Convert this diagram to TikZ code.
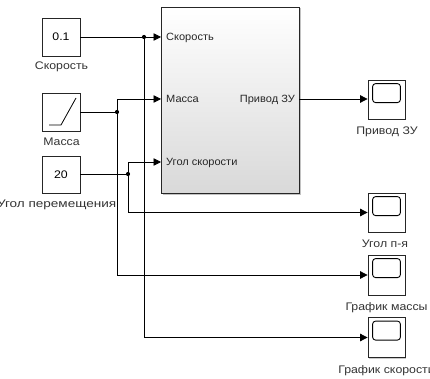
\documentclass[tikz,border=0pt]{standalone}
\usepackage{fontspec}
\setmainfont{Liberation Sans}
\newfontfamily\lblfont[FakeStretch=1.12]{Liberation Sans}
\newfontfamily\portfont[FakeStretch=1.05]{Liberation Sans}
\usetikzlibrary{arrows.meta,shadows}
\begin{document}
\begin{tikzpicture}[x=1pt,y=-1pt,
  blk/.style={draw=black!85,line width=0.8pt,fill=white,inner sep=0pt,
    drop shadow={shadow xshift=1.2pt,shadow yshift=-1.2pt,fill=black!35,opacity=0.6}},
  scopebox/.style={blk,minimum width=37pt,minimum height=39pt},
  wire/.style={line width=0.8pt,black},
  sig/.style={wire,-{Triangle[length=7.5pt,width=7.5pt]}},
  dot/.style={circle,fill=black,inner sep=0pt,minimum size=4.2pt},
  lbl/.style={font=\lblfont\fontsize{11}{12}\selectfont,text=black!80,inner sep=0pt,anchor=base},
  port/.style={font=\portfont\fontsize{10.5}{12}\selectfont,text=black!85,inner sep=0pt,anchor=base west}]
\useasboundingbox (0,0) rectangle (430,379);

% source blocks
\node[blk,minimum width=38pt,minimum height=38pt,font=\lblfont\fontsize{11}{12}\selectfont] (c1) at (61,37) {0.1};
\node[blk,minimum width=38pt,minimum height=38pt] (ramp) at (61,112) {};
\node[blk,minimum width=38pt,minimum height=37pt,font=\lblfont\fontsize{11}{12}\selectfont] (c2) at (61,174.5) {20};
\draw[line width=0.8pt] (49,125) -- (61,125) -- (76,98);

\node[lbl] (lc1) at (61.5,70) {Скорость};
\node[lbl] (lramp) at (61.5,146) {Масса};
\node[lbl,anchor=base east] (lc2) at (116.5,207) {\scalebox{1.1}[1]{Угол перемещения}};

% subsystem
\node[draw=black!85,line width=0.8pt,minimum width=138pt,minimum height=186pt,inner sep=0pt,
  top color=white,bottom color=black!15,
  drop shadow={shadow xshift=1.5pt,shadow yshift=-1.5pt,fill=black!40,opacity=0.6}] (sub) at (230,100) {};
\coordinate (in1) at (161,37);
\coordinate (in2) at (161,99);
\coordinate (in3) at (161,162);
\coordinate (out1) at (299,99);
\node[port] at (166,40.5) {Скорость};
\node[port] at (166,103) {Масса};
\node[port] at (166,166) {Угол скорости};
\node[port,anchor=base east] at (295,103) {Привод ЗУ};

% scopes
\node[scopebox] (s1) at (386.5,99.5) {};
\node[scopebox] (s2) at (386.5,212.5) {};
\node[scopebox,minimum height=40pt] (s3) at (386.5,275) {};
\node[scopebox,minimum height=40pt] (s4) at (386.5,337.5) {};
\foreach \s in {s1,s2,s3,s4}{
  \draw[line width=0.9pt,rounded corners=3pt] ([xshift=5pt,yshift=-4pt]\s.north west) rectangle ([xshift=-5pt,yshift=-23pt]\s.north east);
}
\node[lbl] at (387,135) {Привод ЗУ};
\node[lbl] at (385,247) {Угол п-я};
\node[lbl] at (386.5,310) {График массы};
\node[lbl] at (386.5,373) {График скорости};

% junctions
\coordinate (j1) at (144,37);
\coordinate (j2) at (117,112);
\coordinate (j3) at (128,174);

% wiring
\draw[sig] (c1.east) -- (in1);
\draw[sig] (j1) |- (s4.west);
\draw[wire] (ramp.east) -- (j2);
\draw[sig] (j2) |- (in2);
\draw[sig] (j2) |- (s3.west);
\draw[wire] (c2.east |- j3) -- (j3);
\draw[sig] (j3) |- (in3);
\draw[sig] (j3) |- (s2.west);
\draw[sig] (out1) -- (s1.west |- out1);
\foreach \j in {j1,j2,j3} \node[dot] at (\j) {};
\end{tikzpicture}
\end{document}
